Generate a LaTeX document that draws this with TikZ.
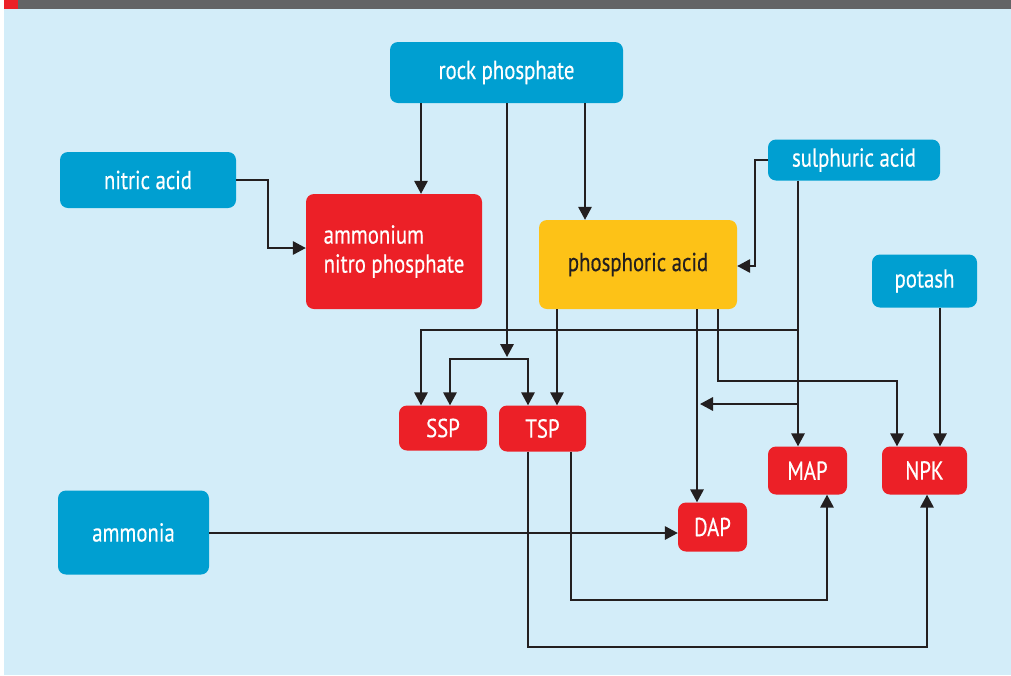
\documentclass[tikz,border=0pt]{standalone}
\usepackage{fontspec}
\setmainfont{PT Sans}[FakeStretch=0.8,FakeBold=0.4]
\usetikzlibrary{arrows.meta}
\definecolor{bgc}{HTML}{D3EDF9}
\definecolor{boxblue}{HTML}{009FD1}
\definecolor{boxred}{HTML}{EC2027}
\definecolor{boxyellow}{HTML}{FDC217}
\definecolor{linec}{HTML}{231F20}
\definecolor{topgray}{HTML}{636466}
\tikzset{
  box/.style={rounded corners=8pt, inner sep=0pt, font=\fontsize{26}{29}\selectfont, text=white},
  bluebox/.style={box, fill=boxblue},
  redbox/.style={box, fill=boxred},
  yellowbox/.style={box, fill=boxyellow, text=linec},
  arr/.style={draw=linec, line width=1.7pt, -{Triangle[length=13pt,width=13.5pt]}},
}
\begin{document}
\begin{tikzpicture}[x=1pt,y=-1pt]
\useasboundingbox (0,0) rectangle (1011,675);
\fill[bgc] (4,0) rectangle (1011,675);
\fill[topgray] (4,0) rectangle (1011,9);
\fill[boxred] (4,0) rectangle (18,9);

\node[bluebox, minimum width=233pt, minimum height=61pt] (rock) at (506.5,72.5) {rock phosphate};
\node[bluebox, minimum width=176pt, minimum height=56pt] (nitric) at (148,180) {nitric acid};
\node[redbox, minimum width=176pt, minimum height=115pt, align=left] (anp) at (394,251.5) {ammonium\\nitro phosphate};
\node[yellowbox, minimum width=198pt, minimum height=89pt] (phos) at (638,264.5) {phosphoric acid};
\node[bluebox, minimum width=172pt, minimum height=41pt] (sulph) at (854,160) {sulphuric acid};
\node[bluebox, minimum width=105pt, minimum height=53pt] (potash) at (924.5,281) {potash};
\node[redbox, minimum width=88pt, minimum height=45pt] (SSP) at (443,428) {SSP};
\node[redbox, minimum width=87pt, minimum height=46pt] (TSP) at (542.5,428.5) {TSP};
\node[redbox, minimum width=79pt, minimum height=48pt] (MAP) at (807.5,470.5) {MAP};
\node[redbox, minimum width=85pt, minimum height=48pt] (NPK) at (924.5,470.5) {NPK};
\node[redbox, minimum width=69pt, minimum height=49pt] (DAP) at (712.5,527) {DAP};
\node[bluebox, minimum width=151pt, minimum height=84pt] (ammonia) at (133.5,532.5) {ammonia};

\coordinate (j0) at (507,357);
\coordinate (j1) at (507,359);
\coordinate (k1) at (268,248);
\coordinate (k2) at (755,266);
\coordinate (k3) at (798,330);
\coordinate (k4) at (798,404);
\coordinate (k5) at (700,404);
\coordinate (k6) at (718,381);
\coordinate (k7) at (571,600);
\coordinate (k8) at (528,647);
\coordinate (k9) at (0,533);

\draw[arr] ([xshift=-85.5pt]rock.south) -- ([xshift=27pt]anp.north);
\draw[arr] ([xshift=78.5pt]rock.south) -- ([xshift=-53pt]phos.north);
\draw[arr] ([xshift=0.5pt]rock.south) -- (j0);
\draw[arr] (j1) -| ([xshift=7pt]SSP.north);
\draw[arr] (j1) -| ([xshift=-14.5pt]TSP.north);
\draw[arr] (nitric.east) -| (k1) -- (k1 -| anp.west);
\draw[arr] (sulph.west) -| (k2) -- (k2 -| phos.east);
\draw[arr] ([xshift=-56pt]sulph.south) -- ([xshift=-9.5pt]MAP.north);
\draw[arr] (k3) -| ([xshift=-22pt]SSP.north);
\draw[arr] (k4) -- (k5);
\draw[arr] ([xshift=-81pt]phos.south) -- ([xshift=14.5pt]TSP.north);
\draw[arr] ([xshift=59pt]phos.south) -- ([xshift=-15.5pt]DAP.north);
\draw[arr] ([xshift=80pt]phos.south) -- (k6) -| ([xshift=-27.5pt]NPK.north);
\draw[arr] ([xshift=15.5pt]potash.south) -- ([xshift=15.5pt]NPK.north);
\draw[arr] (ammonia.east |- k9) -- (DAP.west |- k9);
\draw[arr] ([xshift=28.5pt]TSP.south) -- (k7) -| ([xshift=19.5pt]MAP.south);
\draw[arr] ([xshift=-14.5pt]TSP.south) -- (k8) -| ([xshift=2.5pt]NPK.south);
\end{tikzpicture}
\end{document}
